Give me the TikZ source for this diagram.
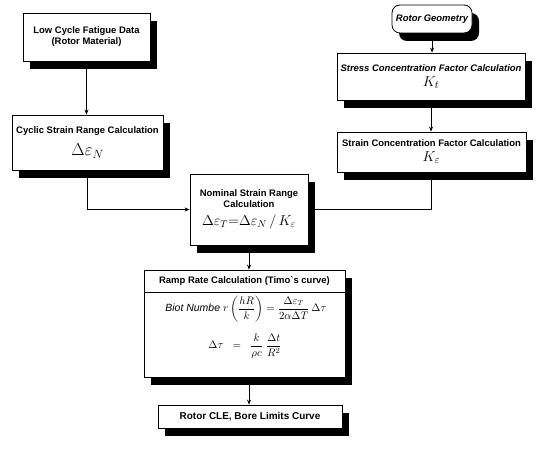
\documentclass[tikz,border=0pt]{standalone}
\usepackage{amsmath}
\usepackage{fontspec}
\setmainfont{Liberation Sans}
\usetikzlibrary{shadows,arrows.meta}

\tikzset{
  box/.style={draw, fill=white, line width=0.8bp, align=center, inner sep=2bp,
    general shadow={fill=black, shadow xshift=7bp, shadow yshift=-8bp},
    font=\fontsize{9.5}{11}\selectfont\bfseries},
  plain/.style={align=center, inner sep=1bp, font=\fontsize{9.5}{11}\selectfont\bfseries},
  flow/.style={-{Stealth[length=5bp,width=4bp]}, line width=0.6bp},
}

\begin{document}
\begin{tikzpicture}[x=1bp,y=-1bp]
\useasboundingbox (0,0) rectangle (539,450);
% left column: fatigue data
\node[box, minimum width=127bp, minimum height=48bp] (lcf) at (86.5,37) {Low Cycle Fatigue Data\\(Rotor Material)};
\node[box, minimum width=151bp, minimum height=55bp] (csr) at (87.5,142.5) {Cyclic Strain Range Calculation\\[7bp]{\fontsize{18}{18}\selectfont$\Delta\varepsilon_N$}};
% right column: geometry
\node[box, rounded corners=8bp, minimum width=80bp, minimum height=28bp, font=\fontsize{9.5}{11}\selectfont\bfseries\itshape] (rg) at (432,19) {Rotor Geometry};
\node[box, minimum width=188bp, minimum height=47bp] (scf) at (431,76.5) {\itshape Stress Concentration Factor Calculation\\[4bp]{\fontsize{15}{15}\selectfont$K_t$}};
\node[box, minimum width=189bp, minimum height=40bp] (sncf) at (431.5,152) {Strain Concentration Factor Calculation\\[4bp]{\fontsize{15}{15}\selectfont$K_\varepsilon$}};
% middle: nominal strain, ramp rate, limits
\node[box, minimum width=118bp, minimum height=71bp] (nsr) at (249,209.5) {Nominal Strain Range\\Calculation\\[7bp]{\fontsize{14}{14}\selectfont$\Delta\varepsilon_T{=}\Delta\varepsilon_N\,/\,K_\varepsilon$}};
\node[box, minimum width=201bp, minimum height=107bp] (ramp) at (244.5,323.5) {};
\node[plain, anchor=north, minimum height=22bp] (ramphdr) at (ramp.north) {Ramp Rate Calculation (Timo\textasciigrave s curve)};
\draw[line width=0.8bp] (ramp.west |- ramphdr.south) -- (ramp.east |- ramphdr.south);
\node[plain, font=\fontsize{10.5}{12}\selectfont] (biot) at (246,309) {$\textit{Biot Numbe}\; r\left(\dfrac{hR}{k}\right) = \dfrac{\Delta\varepsilon_T}{2\alpha\Delta T}\,\Delta\tau$};
\node[plain, font=\fontsize{11}{13}\selectfont] (tau) at (245,346) {$\Delta\tau \;\;=\;\; \dfrac{k}{\rho c}\;\dfrac{\Delta t}{R^{2}}$};
\node[box, minimum width=184bp, minimum height=23bp, font=\fontsize{10}{12}\selectfont\bfseries] (cle) at (250,416.5) {Rotor CLE, Bore Limits Curve};
% connectors
\draw[flow] (lcf.south) -- (lcf.south |- csr.north);
\draw[flow] (csr.south) |- (nsr.west);
\draw[flow] (rg.south) -- (rg.south |- scf.north);
\draw[flow] (scf.south) -- (scf.south |- sncf.north);
\draw[flow] (sncf.south) |- (nsr.east);
\draw[flow] (nsr.south) -- (nsr.south |- ramp.north);
\draw[flow] (nsr.south |- ramp.south) -- (nsr.south |- cle.north);
\end{tikzpicture}
\end{document}
